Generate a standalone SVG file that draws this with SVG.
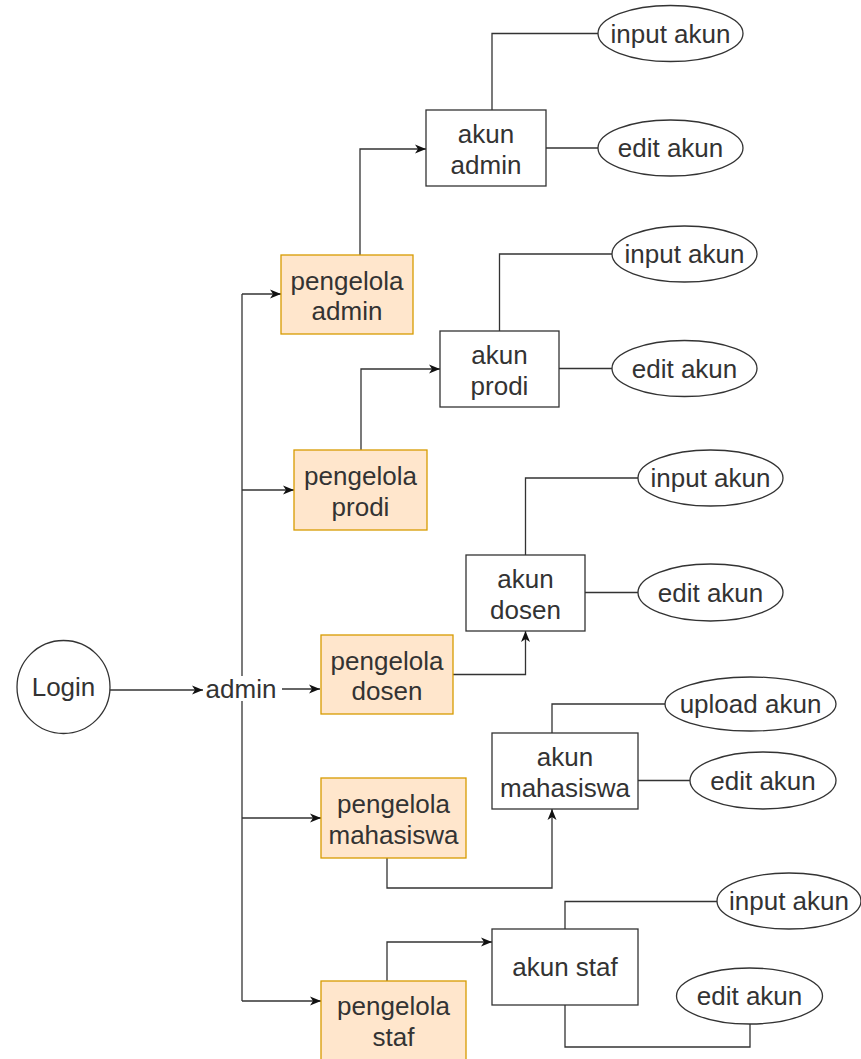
<svg xmlns="http://www.w3.org/2000/svg" width="861" height="1059" viewBox="0 0 861 1059">
<style>
text{font-family:"Liberation Sans",Arial,sans-serif;font-size:26px;fill:#333;text-anchor:middle}
.o{fill:#ffe6cc;stroke:#d79b00;stroke-width:1.3}
.w{fill:#fff;stroke:#333;stroke-width:1.3}
.c{fill:none;stroke:#333;stroke-width:1.3}
</style>
<defs>
<marker id="a" markerUnits="userSpaceOnUse" markerWidth="12" markerHeight="12" refX="11" refY="6" orient="auto">
<path d="M0,1.5 L11,6 L0,10.5 L3,6 z" fill="#111"/>
</marker>
</defs>
<rect width="861" height="1059" fill="#fff"/>
<g id="connectors">
<path class="c" d="M110,690 H203" marker-end="url(#a)"/>
<path class="c" d="M242,294 V1001"/>
<path class="c" d="M282,689 H320" marker-end="url(#a)"/>
<path class="c" d="M242,294 H281" marker-end="url(#a)"/>
<path class="c" d="M242,490 H294" marker-end="url(#a)"/>
<path class="c" d="M242,818 H321" marker-end="url(#a)"/>
<path class="c" d="M242,1001 H321" marker-end="url(#a)"/>
<path class="c" d="M360,255 V149 H426" marker-end="url(#a)"/>
<path class="c" d="M361,450 V369 H440" marker-end="url(#a)"/>
<path class="c" d="M453,674.5 H525.5 V631" marker-end="url(#a)"/>
<path class="c" d="M387,858 V888 H552 V809" marker-end="url(#a)"/>
<path class="c" d="M387,981 V942 H492" marker-end="url(#a)"/>
<path class="c" d="M492,110 V33.5 H598"/>
<path class="c" d="M546,148 H598"/>
<path class="c" d="M499.5,331 V254 H612"/>
<path class="c" d="M559,368.5 H612"/>
<path class="c" d="M525.5,555 V478 H638"/>
<path class="c" d="M585,592.5 H638"/>
<path class="c" d="M552,733 V704 H665"/>
<path class="c" d="M638,780.5 H690"/>
<path class="c" d="M565,929 V901.5 H717"/>
<path class="c" d="M565,1005 V1047 H750 V1024"/>
</g>
<g id="login"><circle class="w" cx="63.5" cy="687" r="46.5"/><text x="63.5" y="696">Login</text></g>
<g id="admin"><rect x="205" y="676" width="72" height="25" fill="#fff"/><text x="241" y="698">admin</text></g>
<g id="pengelola-admin"><rect class="o" x="281" y="255" width="132" height="79"/><text x="347" y="289.5">pengelola</text><text x="347" y="320">admin</text></g>
<g id="pengelola-prodi"><rect class="o" x="294" y="450" width="133" height="80"/><text x="360.5" y="485">pengelola</text><text x="360.5" y="515.5">prodi</text></g>
<g id="pengelola-dosen"><rect class="o" x="321" y="635" width="132" height="79"/><text x="387" y="669.5">pengelola</text><text x="387" y="700">dosen</text></g>
<g id="pengelola-mahasiswa"><rect class="o" x="321" y="778" width="145" height="80"/><text x="393.5" y="813">pengelola</text><text x="393.5" y="843.5">mahasiswa</text></g>
<g id="pengelola-staf"><rect class="o" x="321" y="981" width="145" height="80"/><text x="393.5" y="1015">pengelola</text><text x="393.5" y="1045.5">staf</text></g>
<g id="akun-admin"><rect class="w" x="426" y="110" width="120" height="76"/><text x="486" y="143">akun</text><text x="486" y="173.5">admin</text></g>
<g id="akun-prodi"><rect class="w" x="440" y="331" width="119" height="76"/><text x="499.5" y="364">akun</text><text x="499.5" y="394.5">prodi</text></g>
<g id="akun-dosen"><rect class="w" x="466" y="555" width="119" height="76"/><text x="525.5" y="588">akun</text><text x="525.5" y="618.5">dosen</text></g>
<g id="akun-mahasiswa"><rect class="w" x="492" y="733" width="146" height="76"/><text x="565" y="766">akun</text><text x="565" y="796.5">mahasiswa</text></g>
<g id="akun-staf"><rect class="w" x="492" y="929" width="146" height="76"/><text x="565" y="976">akun staf</text></g>
<g id="admin-input"><ellipse class="w" cx="670.5" cy="33.5" rx="72.5" ry="28"/><text x="670.5" y="42.5">input akun</text></g>
<g id="admin-edit"><ellipse class="w" cx="670.5" cy="148" rx="72.5" ry="28"/><text x="670.5" y="157">edit akun</text></g>
<g id="prodi-input"><ellipse class="w" cx="684.5" cy="254" rx="72.5" ry="28"/><text x="684.5" y="263">input akun</text></g>
<g id="prodi-edit"><ellipse class="w" cx="684.5" cy="368.5" rx="72.5" ry="28"/><text x="684.5" y="377.5">edit akun</text></g>
<g id="dosen-input"><ellipse class="w" cx="710.5" cy="478" rx="72.5" ry="28"/><text x="710.5" y="487">input akun</text></g>
<g id="dosen-edit"><ellipse class="w" cx="710.5" cy="592.5" rx="72.5" ry="28.5"/><text x="710.5" y="601.5">edit akun</text></g>
<g id="mahasiswa-upload"><ellipse class="w" cx="750.5" cy="704" rx="85.5" ry="27"/><text x="750.5" y="713">upload akun</text></g>
<g id="mahasiswa-edit"><ellipse class="w" cx="763" cy="780.5" rx="73" ry="28.5"/><text x="763" y="789.5">edit akun</text></g>
<g id="staf-input"><ellipse class="w" cx="789" cy="901" rx="72" ry="28"/><text x="789" y="910">input akun</text></g>
<g id="staf-edit"><ellipse class="w" cx="749.5" cy="996" rx="73" ry="28"/><text x="749.5" y="1005">edit akun</text></g>
</svg>
